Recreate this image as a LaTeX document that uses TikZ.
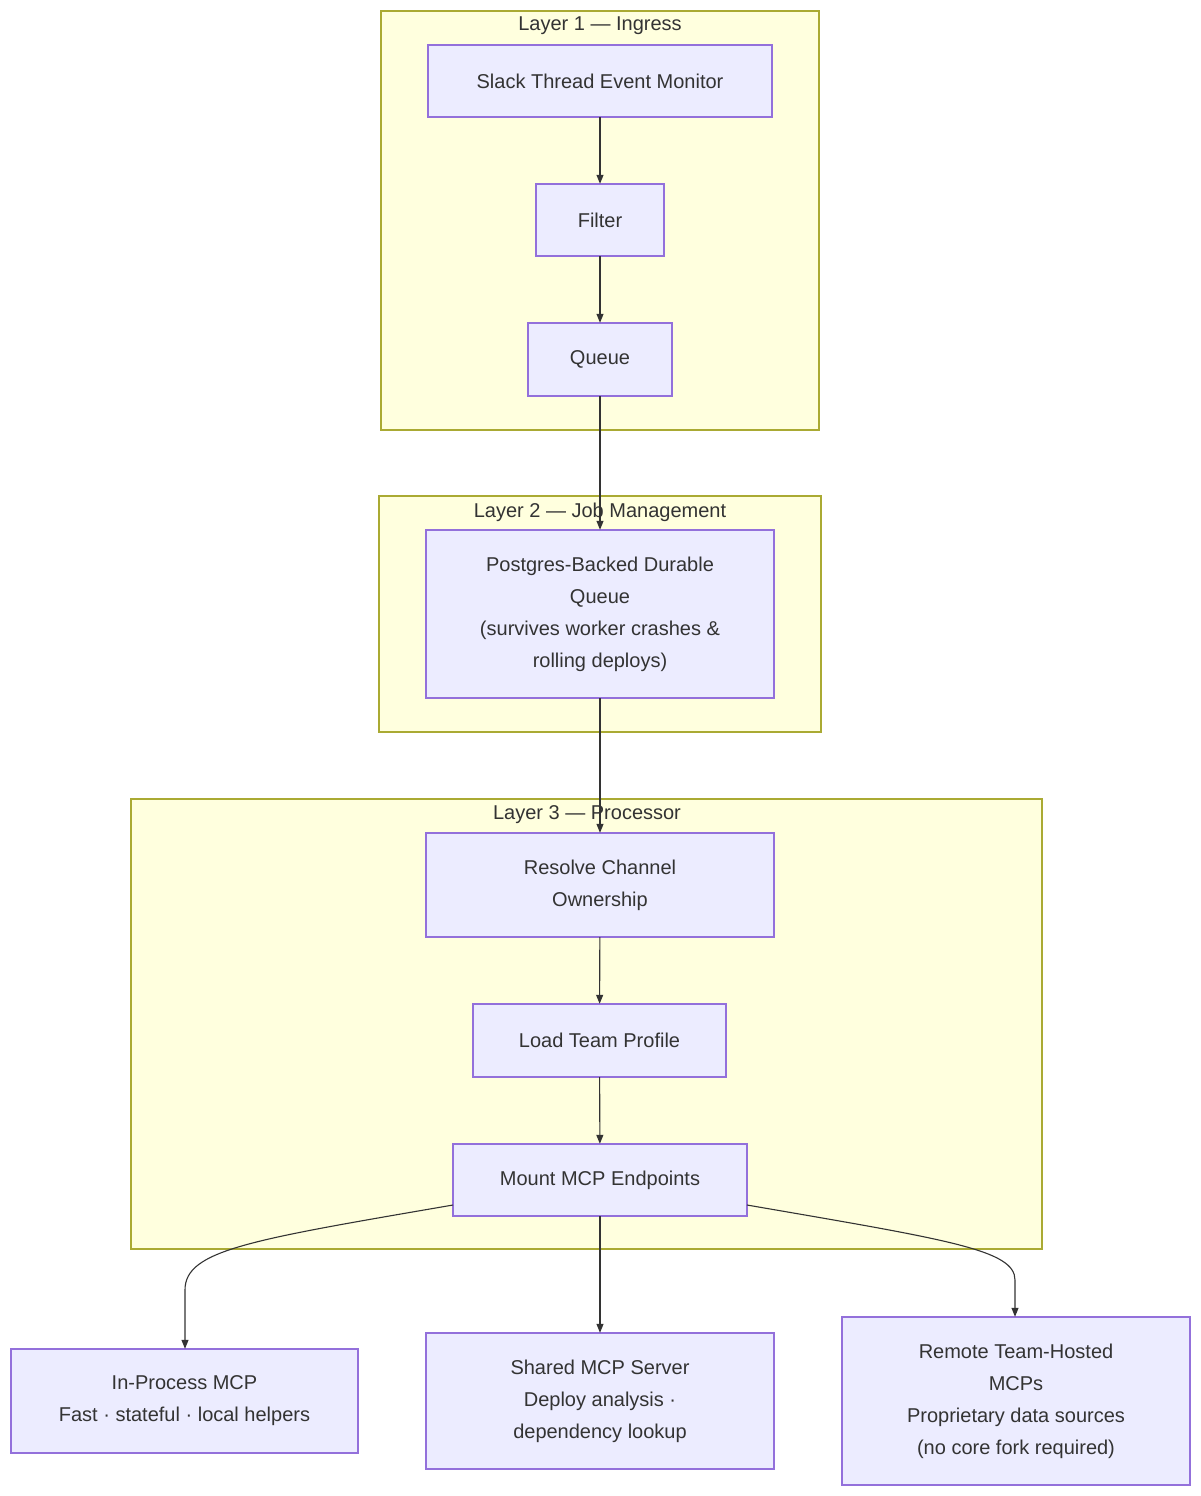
\documentclass[tikz,border=0pt]{standalone}
\usepackage{fontspec}
\setmainfont{Liberation Sans}
\usetikzlibrary{arrows.meta}
\definecolor{nfill}{HTML}{ECECFF}
\definecolor{nline}{HTML}{9370DB}
\definecolor{cfill}{HTML}{FFFFDE}
\definecolor{cline}{HTML}{AAAA33}
\definecolor{txt}{HTML}{333333}
\begin{document}
\begin{tikzpicture}[x=1pt,y=-1pt,
  box/.style={draw=nline,fill=nfill,line width=1.2pt},
  clu/.style={draw=cline,fill=cfill,line width=1.2pt},
  lab/.style={text=txt,font=\fontsize{20}{32}\selectfont,align=center,inner sep=0pt},
  edge/.style={draw=txt,line width=1.1pt,-{Triangle[length=9pt,width=7pt]}}]
\useasboundingbox (0,0) rectangle (1200,1496);
% clusters
\path[clu] (381,11) rectangle (819,430);
\node[lab] (t1) at (600,26) {Layer 1 — Ingress};
\path[clu] (379,496) rectangle (821,732);
\path[clu] (131,799) rectangle (1042,1249);
% nodes
\newcommand{\bx}[6]{\path[box] (#2,#3) rectangle (#4,#5);
  \node[lab,minimum width=#4pt-#2pt,minimum height=#5pt-#3pt] (#1) at ({(#2+#4)/2},{(#3+#5)/2}) {#6};}
\bx{slack}{428}{45}{772}{117}{Slack Thread Event Monitor}
\bx{filter}{536}{184}{664}{256}{Filter}
\bx{queue}{528}{323}{672}{396}{Queue}
\bx{pg}{426}{530}{774}{698}{Postgres-Backed Durable\\Queue\\(survives worker crashes \&\\rolling deploys)}
\bx{res}{426}{833}{774}{937}{Resolve Channel\\Ownership}
\bx{load}{473}{1004}{726}{1077}{Load Team Profile}
\bx{mount}{453}{1144}{747}{1216}{Mount MCP Endpoints}
\bx{inp}{11}{1349}{358}{1453}{In-Process MCP\\Fast · stateful · local helpers}
\bx{shared}{426}{1333}{774}{1469}{Shared MCP Server\\Deploy analysis ·\\dependency lookup}
\bx{remote}{842}{1317}{1190}{1485}{Remote Team-Hosted\\MCPs\\Proprietary data sources\\(no core fork required)}
% edges
\draw[edge] (slack) -- (filter);
\draw[edge] (filter) -- (queue);
\draw[edge] (queue) -- (pg);
\draw[edge] (pg) -- (res);
\draw[edge] (res) -- (load);
\draw[edge] (load) -- (mount);
\draw[edge] (mount) -- (shared);
\coordinate (ml) at (453,1205);
\coordinate (mr) at (747,1205);
\draw[edge] (ml) .. controls (250,1240) and (185,1250) .. (185,1290) -- (inp.north -| 185,0);
\draw[edge] (mr) .. controls (950,1240) and (1015,1250) .. (1015,1280) -- (remote.north -| 1015,0);
\node[lab] (t2) at (600,512) {Layer 2 — Job Management};
\node[lab] (t3) at (587,815) {Layer 3 — Processor};
\end{tikzpicture}
\end{document}
